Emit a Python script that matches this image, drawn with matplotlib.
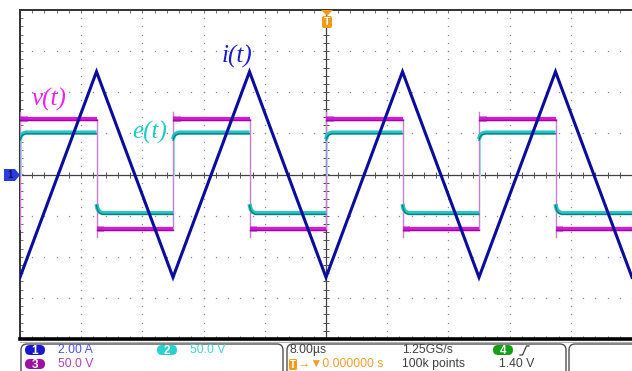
import numpy as np
import matplotlib
matplotlib.use('Agg')
import matplotlib.pyplot as plt
from matplotlib.patches import FancyBboxPatch, Polygon

time_div_us = 8.0
ch1_A_per_div = 2.0
ch2_V_per_div = 50.0
ch3_V_per_div = 50.0

i_time_us = [-40, -30, -20, -10, 0, 10, 20, 30, 40]
i_current_A = [-5.0, 5.0, -5.0, 5.0, -5.0, 5.0, -5.0, 5.0, -5.0]

rise_edges_us = [-40, -20, 0, 20]
fall_edges_us = [-30, -10, 10, 30]
end_us = 40

v_high_V = 68
v_low_V = -66
v_spike_V = 76

e_high_V = 51
e_low_V = -47
e_rise_start_V = 43
e_fall_start_V = -36
e_knee_dt_us = [0.0, 0.15, 0.4, 0.8]
e_knee_frac = [0.0, 0.55, 0.85, 1.0]

# ---------------- figure ----------------
W, H = 632, 371
fig = plt.figure(figsize=(W / 100, H / 100), dpi=100)
fig.patch.set_facecolor('white')

L, T, B = 20, 10, 339
ax = fig.add_axes([L / W, (H - B) / H, (W - L) / W, (B - T) / H])
ax.set_xlim(-5 * time_div_us, 5 * time_div_us)
ax.set_ylim(-4, 4)
ax.set_xticks([])
ax.set_yticks([])
ax.set_facecolor('white')
ax.spines['right'].set_visible(False)
ax.spines['top'].set_color('#303030')
ax.spines['top'].set_linewidth(1.4)
ax.spines['left'].set_color('#303030')
ax.spines['left'].set_linewidth(1.4)
ax.spines['bottom'].set_color('black')
ax.spines['bottom'].set_linewidth(2.6)

# dotted graticule
gcol = '#8a8a8a'
ydots = np.arange(-4, 4.001, 0.2)
xdots = np.arange(-40, 40.001, 1.6)
for k in range(-4, 5):
    if k == 0:
        continue
    ax.plot(np.full_like(ydots, k * time_div_us), ydots, ls='none', marker='s',
            ms=0.9, mew=0, color=gcol, zorder=1)
for k in range(-3, 4):
    if k == 0:
        continue
    ax.plot(xdots, np.full_like(xdots, k), ls='none', marker='s',
            ms=0.9, mew=0, color=gcol, zorder=1)

# center lines with ticks
ax.axhline(0, color='#404040', lw=0.9, zorder=2)
ax.axvline(0, color='#404040', lw=0.9, zorder=2)
ax.plot(xdots, np.zeros_like(xdots), ls='none', marker='|', ms=4, mew=0.7,
        color='#505050', zorder=2)
ax.plot(np.zeros_like(ydots), ydots, ls='none', marker='_', ms=4, mew=0.7,
        color='#505050', zorder=2)
# border ticks
ax.plot(xdots, np.full_like(xdots, 4), ls='none', marker='|', ms=5, mew=0.7,
        color='#707070', zorder=2)
ax.plot(xdots, np.full_like(xdots, -4), ls='none', marker='|', ms=5, mew=0.7,
        color='#707070', zorder=2)
ax.plot(np.full_like(ydots, -40), ydots, ls='none', marker='_', ms=5, mew=0.7,
        color='#707070', zorder=2)

# ---------------- waveforms ----------------
edges = sorted([(t, 'r') for t in rise_edges_us] + [(t, 'f') for t in fall_edges_us])
bounds = [t for t, _ in edges] + [end_us]

# v(t) transitions (thin light verticals)
for t in rise_edges_us:
    ax.plot([t, t], [v_low_V / ch3_V_per_div, v_spike_V / ch3_V_per_div],
            color='#c77fd6', lw=1.0, zorder=3)
    ax.plot([t + 0.1, t + 0.1], [0.0, e_rise_start_V / ch2_V_per_div],
            color='#8fe0e0', lw=0.8, zorder=3)
for t in fall_edges_us:
    ax.plot([t, t], [v_high_V / ch3_V_per_div, -v_spike_V / ch3_V_per_div],
            color='#c77fd6', lw=1.0, zorder=3)

for n, (t0, kind) in enumerate(edges):
    t1 = bounds[n + 1]
    # v(t) plateau
    lvl = (v_high_V if kind == 'r' else v_low_V) / ch3_V_per_div
    ax.plot([t0, t1], [lvl, lvl], color='#d81ad8', lw=3.0, solid_capstyle='butt', zorder=4)
    ax.plot([t0, min(t0 + 1.0, t1)], [lvl, lvl], color='#c020c8', lw=4.2,
            solid_capstyle='butt', zorder=4, alpha=0.55)
    ax.plot([t0, t1], [lvl - 0.03, lvl - 0.03], color='#a000a8', lw=1.0, zorder=4)
    # e(t) plateau with knee
    if kind == 'r':
        start, level = e_rise_start_V, e_high_V
    else:
        start, level = e_fall_start_V, e_low_V
    ts = [t0 + d for d in e_knee_dt_us] + [t1]
    vs = [start + f * (level - start) for f in e_knee_frac] + [level]
    vs = [v / ch2_V_per_div for v in vs]
    ax.plot(ts, vs, color='#22c4c4', lw=3.0, solid_capstyle='butt', zorder=5)
    ax.plot(ts, [v - 0.03 for v in vs], color='#0e7a7a', lw=0.9, zorder=5)

# i(t)
ax.plot(i_time_us, [a / ch1_A_per_div for a in i_current_A], color='#0b0b9c',
        lw=2.2, zorder=6, solid_joinstyle='miter')

# labels
lab = dict(family=['Liberation Serif', 'DejaVu Serif'], style='italic', fontsize=18,
           ha='center', va='center', zorder=7)
ax.text(*ax.transData.inverted().transform(fig.transFigure.transform((49 / W, 1 - 99 / H))),
        'v(t)', color='#f020f0', **lab)
ax.text(*ax.transData.inverted().transform(fig.transFigure.transform((150 / W, 1 - 132 / H))),
        'e(t)', color='#22caca', **lab)
ax.text(*ax.transData.inverted().transform(fig.transFigure.transform((237 / W, 1 - 56 / H))),
        'i(t)', color='#1a1ad0', **lab)

# ---------------- overlay (pixel coordinates) ----------------
ov = fig.add_axes([0, 0, 1, 1], zorder=10)
ov.set_xlim(0, W)
ov.set_ylim(H, 0)
ov.axis('off')
ov.patch.set_alpha(0)

# gray line below the plot
ov.plot([L, W], [341.5, 341.5], color='#b0b0b0', lw=0.8)

# status boxes
for x0, x1 in [(21, 283), (287, 566), (569, 650)]:
    ov.add_patch(FancyBboxPatch((x0, 344), x1 - x0, 40,
                                boxstyle='round,pad=0,rounding_size=6',
                                fc='white', ec='#505050', lw=1.0))

sans = ['Liberation Sans', 'DejaVu Sans']

def badge(cx, cy, txt, col):
    ov.add_patch(FancyBboxPatch((cx - 10, cy - 5), 20, 10,
                                boxstyle='round,pad=0,rounding_size=5',
                                fc=col, ec='none'))
    ov.text(cx, cy + 0.5, txt, color='white', fontsize=8.5, family=sans,
            fontweight='bold', ha='center', va='center')

def txt(x, y, s, col):
    ov.text(x, y, s, color=col, fontsize=8.8, family=sans, ha='left', va='center')

badge(35, 350, '1', '#1818cc')
txt(58, 350, '2.00 A', '#5050e6')
badge(167, 350, '2', '#28d0d0')
txt(190, 350, '50.0 V', '#48d2d2')
badge(35, 364, '3', '#a010a0')
txt(58, 364, '50.0 V', '#b040b0')

txt(289, 350, '8.00µs', '#404040')
ov.add_patch(FancyBboxPatch((289, 359), 8, 11, boxstyle='round,pad=0,rounding_size=1.5',
                            fc='#f39a1a', ec='none'))
ov.text(293, 364.5, 'T', color='white', fontsize=7, family=sans, fontweight='bold',
        ha='center', va='center')
txt(298, 364, '→▼0.000000 s', '#f0a030')
txt(402, 350, '1.25GS/s', '#404040')
txt(402, 364, '100k points', '#404040')
badge(503, 350, '4', '#12a012')
ov.plot([520, 522.5, 526.5, 529], [355, 355, 346, 346], color='#404040', lw=0.9)
txt(499, 364, '1.40 V', '#404040')

# trigger marker (top)
ov.add_patch(Polygon([[321, 10], [333, 10], [327, 16]], closed=True, fc='#f39a1a', ec='none'))
ov.add_patch(FancyBboxPatch((322, 16), 10, 12, boxstyle='round,pad=0,rounding_size=2',
                            fc='#f39a1a', ec='none'))
ov.text(327, 22, 'T', color='white', fontsize=7.5, family=sans, fontweight='bold',
        ha='center', va='center')

# channel 1 ground marker (left)
ov.add_patch(Polygon([[4, 169], [15, 169], [20, 175], [15, 181], [4, 181]], closed=True,
                     fc='#2a3be0', ec='none'))
ov.text(10.5, 175.5, '1', color='#101060', fontsize=7, family=sans, fontweight='bold',
        ha='center', va='center')

fig.savefig('out.png', dpi=100, facecolor='white')
